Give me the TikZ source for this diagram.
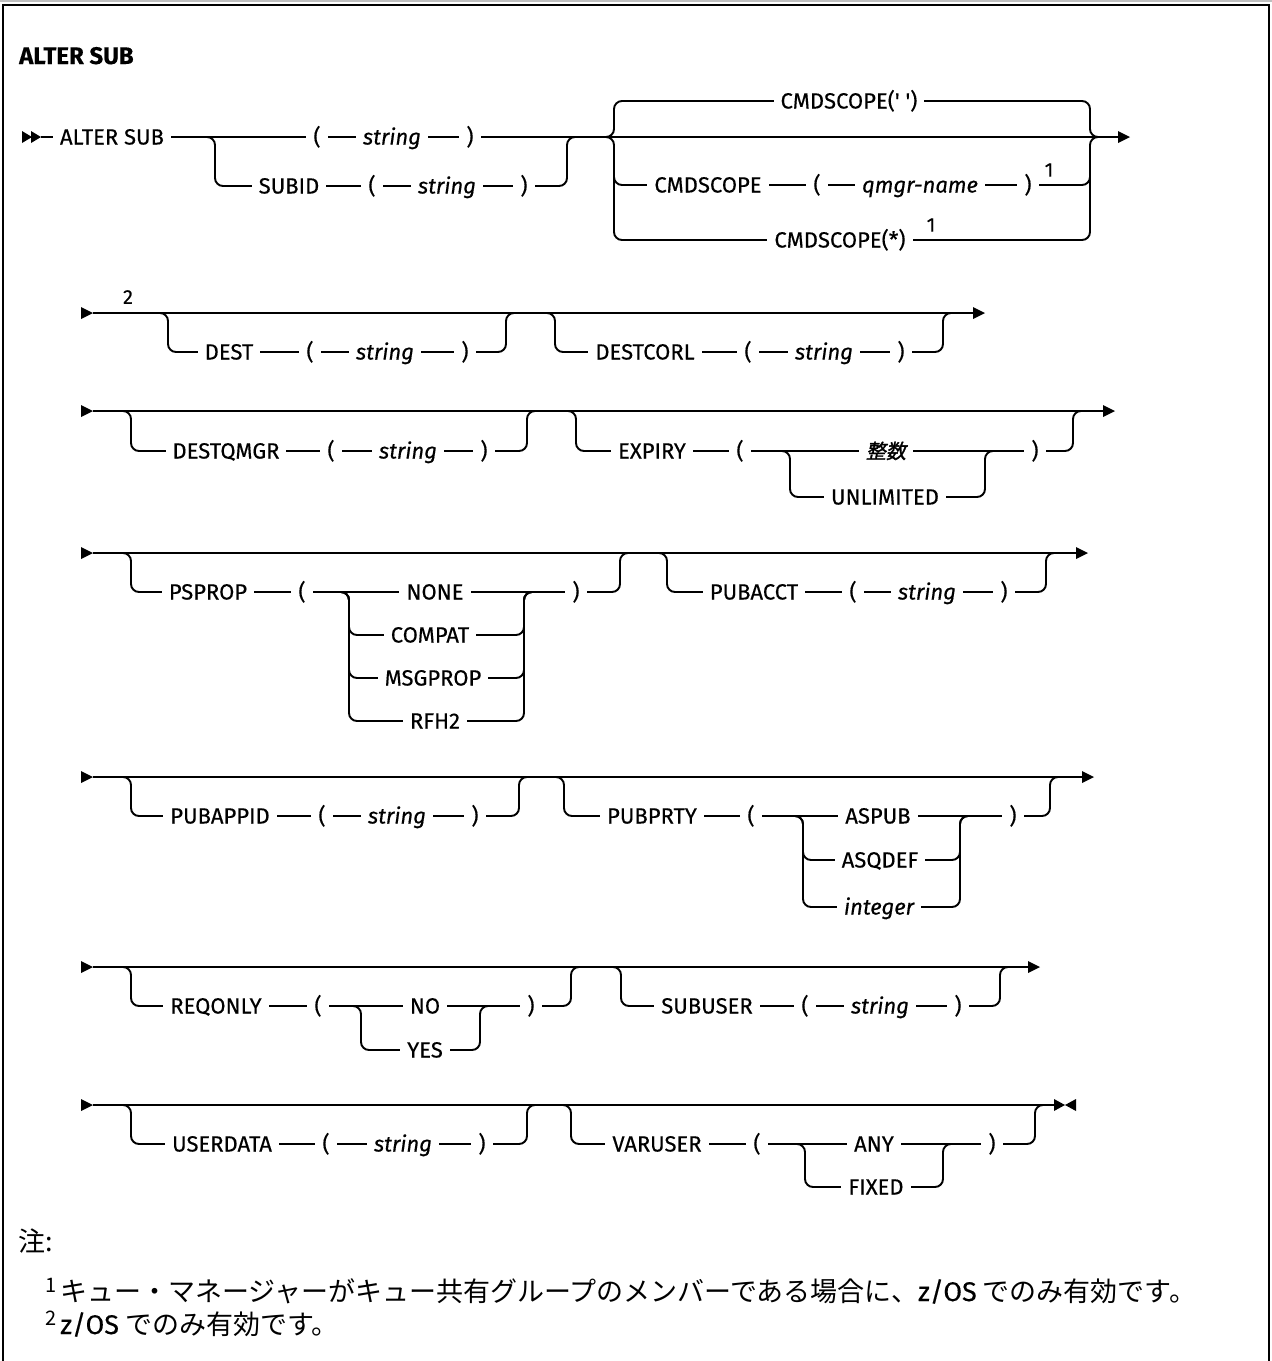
\documentclass[tikz,border=0pt]{standalone}
\usepackage{fontspec}
\setmainfont{Fira Sans}[FakeBold=0.35]
\newfontfamily\jpfam{Noto Sans CJK JP}
\newfontfamily\jpslant{Noto Sans CJK JP}[FakeSlant=0.2,FakeBold=1.5]
\newcommand\rrf{\fontsize{22}{26}\selectfont}
\newcommand\supf{\fontsize{20}{24}\selectfont}
\newcommand\ttlf{\fontsize{24}{28}\selectfont\bfseries}
\newcommand\jpf{\jpfam\fontsize{27}{32}\selectfont}
\newcommand\rrOpt[4]{\draw[rail] (#1,#3) -- (#1+8,#3) -- (#1+8,#4) -- (#2-8,#4) -- (#2-8,#3) -- (#2,#3);}
\newcommand\rrArrow[2]{\fill (#1-12,#2-6) -- (#1,#2) -- (#1-12,#2+6) -- cycle;}
\tikzset{
  rail/.style={line width=1.9pt, rounded corners=8pt},
  kw/.style={font=\rrf, fill=white, inner xsep=7pt, inner ysep=1pt, text height=15pt, text depth=0pt},
  vr/.style={kw, font=\rrf\itshape},
  jvr/.style={kw, font=\jpslant\fontsize{20}{24}\selectfont},
  sup/.style={font=\supf, inner sep=0pt},
}
\begin{document}
\begin{tikzpicture}[x=1pt,y=-1pt]
\useasboundingbox (0,0) rectangle (1272,1361);
% frame
\draw[black!25,line width=1.5pt] (0,1) -- (1272,1);
\draw[line width=2pt] (3,1361) -- (3,5) -- (1269,5) -- (1269,1361);
\node[font=\ttlf, anchor=base west, inner sep=0pt] (title) at (19,64) {ALTER SUB};

% ---------- Row 1
\fill (22,131) -- (32,137) -- (22,143) -- cycle;
\fill (31,131) -- (41,137) -- (31,143) -- cycle;
\draw[rail] (41,137) -- (1118,137);
\rrArrow{1130}{137}
\rrOpt{207}{575}{137}{186}
% brace group
\draw[rail] (606,137) -- (614,137) -- (614,101) -- (1090,101) -- (1090,137) -- (1098,137);
\draw[rail] (606,137) -- (614,137) -- (614,185) -- (1090,185) -- (1090,137) -- (1098,137);
\draw[rail] (614,175) -- (614,240) -- (1090,240) -- (1090,175);
\node[kw] (a1) at (112,137) {ALTER SUB};
\node[kw] (a2) at (317,137) {(};
\node[vr] (a3) at (392,137) {string};
\node[kw] (a4) at (470,137) {)};
\node[kw] (a5) at (289,186) {SUBID};
\node[kw] (a6) at (372,186) {(};
\node[vr] (a7) at (447,186) {string};
\node[kw] (a8) at (524,186) {)};
\node[kw] (a9) at (849,101) {CMDSCOPE(\textquotesingle\ \textquotesingle)};
\node[kw] (a10) at (708,185) {CMDSCOPE};
\node[kw] (a11) at (817,185) {(};
\node[vr] (a12) at (920,185) {qmgr-name};
\node[kw] (a13) at (1028,185) {)};
\node[sup] (a14) at (1049,170) {1};
\node[kw] (a15) at (840,240) {CMDSCOPE(*)};
\node[sup] (a16) at (931,225) {1};

% ---------- Row 2
\rrArrow{93}{313}
\draw[rail] (93,313) -- (973,313);
\rrArrow{985}{313}
\rrOpt{160}{514}{313}{352}
\rrOpt{547}{951}{313}{352}
\node[sup] (b0) at (128,297) {2};
\node[kw] (b1) at (229,352) {DEST};
\node[kw] (b2) at (310,352) {(};
\node[vr] (b3) at (385,352) {string};
\node[kw] (b4) at (465,352) {)};
\node[kw] (b5) at (645,352) {DESTCORL};
\node[kw] (b6) at (748,352) {(};
\node[vr] (b7) at (824,352) {string};
\node[kw] (b8) at (901,352) {)};

% ---------- Row 3
\rrArrow{93}{411}
\draw[rail] (93,411) -- (1103,411);
\rrArrow{1115}{411}
\rrOpt{123}{535}{411}{451}
\rrOpt{568}{1081}{411}{451}
\rrOpt{782}{993}{451}{497}
\node[kw] (c1) at (226,451) {DESTQMGR};
\node[kw] (c2) at (331,451) {(};
\node[vr] (c3) at (408,451) {string};
\node[kw] (c4) at (484,451) {)};
\node[kw] (c5) at (652,451) {EXPIRY};
\node[kw] (c6) at (740,451) {(};
\node[jvr] (c7) at (886,451) {整数};
\node[kw] (c8) at (1035,451) {)};
\node[kw] (c9) at (885,497) {UNLIMITED};

% ---------- Row 4
\rrArrow{93}{553}
\draw[rail] (93,553) -- (1076,553);
\rrArrow{1088}{553}
\rrOpt{123}{628}{553}{592}
\rrOpt{341}{532}{592}{635}
\rrOpt{341}{532}{592}{678}
\rrOpt{341}{532}{592}{721}
\rrOpt{659}{1054}{553}{592}
\node[kw] (d1) at (208,592) {PSPROP};
\node[kw] (d2) at (302,592) {(};
\node[kw] (d3) at (435,592) {NONE};
\node[kw] (d4) at (430,635) {COMPAT};
\node[kw] (d5) at (433,678) {MSGPROP};
\node[kw] (d6) at (435,721) {RFH2};
\node[kw] (d7) at (576,592) {)};
\node[kw] (d8) at (754,592) {PUBACCT};
\node[kw] (d9) at (853,592) {(};
\node[vr] (d10) at (927,592) {string};
\node[kw] (d11) at (1004,592) {)};

% ---------- Row 5
\rrArrow{93}{777}
\draw[rail] (93,777) -- (1082,777);
\rrArrow{1094}{777}
\rrOpt{123}{527}{777}{816}
\rrOpt{556}{1058}{777}{816}
\rrOpt{795}{968}{816}{860}
\rrOpt{795}{968}{816}{907}
\node[kw] (e1) at (220,816) {PUBAPPID};
\node[kw] (e2) at (322,816) {(};
\node[vr] (e3) at (397,816) {string};
\node[kw] (e4) at (475,816) {)};
\node[kw] (e5) at (652,816) {PUBPRTY};
\node[kw] (e6) at (751,816) {(};
\node[kw] (e7) at (878,816) {ASPUB};
\node[kw] (e8) at (880,860) {ASQDEF};
\node[vr] (e9) at (879,907) {integer};
\node[kw] (e10) at (1013,816) {)};

% ---------- Row 6
\rrArrow{93}{967}
\draw[rail] (93,967) -- (1028,967);
\rrArrow{1040}{967}
\rrOpt{123}{579}{967}{1006}
\rrOpt{353}{488}{1006}{1050}
\rrOpt{613}{1008}{967}{1006}
\node[kw] (f1) at (216,1006) {REQONLY};
\node[kw] (f2) at (318,1006) {(};
\node[kw] (f3) at (425,1006) {NO};
\node[kw] (f4) at (425,1050) {YES};
\node[kw] (f5) at (531,1006) {)};
\node[kw] (f6) at (707,1006) {SUBUSER};
\node[kw] (f7) at (805,1006) {(};
\node[vr] (f8) at (880,1006) {string};
\node[kw] (f9) at (958,1006) {)};

% ---------- Row 7
\rrArrow{93}{1105}
\draw[rail] (93,1105) -- (1054,1105);
\fill (1054,1099) -- (1065,1105) -- (1054,1111) -- cycle;
\fill (1076,1099) -- (1065,1105) -- (1076,1111) -- cycle;
\rrOpt{123}{535}{1105}{1144}
\rrOpt{563}{1043}{1105}{1144}
\rrOpt{797}{951}{1144}{1187}
\node[kw] (g1) at (222,1144) {USERDATA};
\node[kw] (g2) at (326,1144) {(};
\node[vr] (g3) at (403,1144) {string};
\node[kw] (g4) at (482,1144) {)};
\node[kw] (g5) at (657,1144) {VARUSER};
\node[kw] (g6) at (757,1144) {(};
\node[kw] (g7) at (874,1144) {ANY};
\node[kw] (g8) at (876,1187) {FIXED};
\node[kw] (g9) at (992,1144) {)};

% ---------- Notes
\node[font=\jpf, anchor=base west, inner sep=0pt] (n0) at (18,1251) {注:};
\node[font=\jpf, anchor=base west, inner sep=0pt] (n1) at (45,1301)
  {\raisebox{9pt}{\supf 1}\hspace{4pt}キュー・マネージャーがキュー共有グループのメンバーである場合に、{\rmfamily\fontsize{27}{32}\selectfont z/OS} でのみ有効です。};
\node[font=\jpf, anchor=base west, inner sep=0pt] (n2) at (45,1334)
  {\raisebox{9pt}{\supf 2}\hspace{4pt}{\rmfamily\fontsize{27}{32}\selectfont z/OS} でのみ有効です。};
\end{tikzpicture}
\end{document}
